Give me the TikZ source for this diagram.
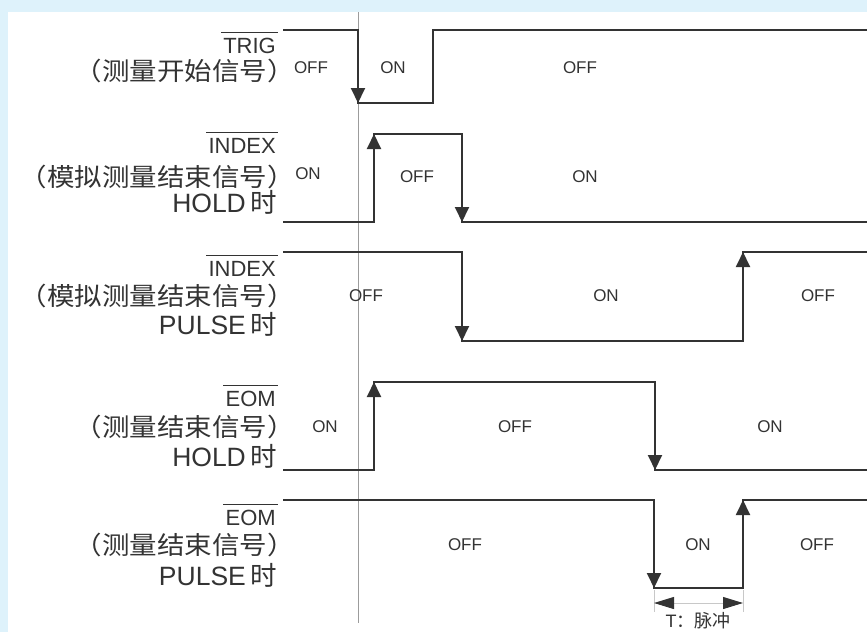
\documentclass[tikz,border=0pt]{standalone}
\usepackage{fontspec}
\setmainfont{Liberation Sans}
\newfontfamily\cjk{Noto Sans CJK SC}
\newfontfamily\cjkw{Noto Sans CJK SC}[FakeStretch=1.1]
\usetikzlibrary{arrows.meta}
\definecolor{bgblue}{HTML}{DEF2FB}
\definecolor{wave}{HTML}{333333}
\definecolor{guide}{HTML}{9C9C9C}
\definecolor{dimline}{HTML}{C8C8C8}
\tikzset{dimtip/.tip={Triangle[length=20pt,width=12pt,color=wave,fill=wave]}}
\begin{document}
\begin{tikzpicture}[x=1pt,y=-1pt,
  sig/.style={draw=wave,line width=1.9pt,line join=miter,line cap=butt},
  edgearrow/.style={sig,-{Triangle[length=15pt,width=14pt]}},
  sname/.style={anchor=base east,inner sep=0pt,font=\fontsize{22}{24}\selectfont,text=wave},
  cnline/.style={anchor=east,inner sep=0pt,font=\fontsize{25}{28}\selectfont\cjkw,text=wave},
  smode/.style={anchor=base east,inner sep=0pt,font=\fontsize{26.5}{28}\selectfont,text=wave},
  state/.style={inner sep=0pt,font=\fontsize{17}{19}\selectfont,text=wave},
  ovl/.style={draw=wave,line width=1.4pt},
]
\useasboundingbox (0,0) rectangle (867,632);
\fill[bgblue] (0,0) rectangle (867,632);
\fill[white] (8,12) rectangle (867,632);

% guide line
\draw[guide,line width=0.9pt] (358,12) -- (358,623);

% left labels
\node[sname] (n1) at (276,53) {TRIG};
\draw[ovl] ([xshift=-2pt,yshift=5pt]n1.north west) -- ([xshift=2pt,yshift=5pt]n1.north east);
\node[cnline] (c1) at (295,71) {（测量开始信号）};

\node[sname] (n2) at (276,153) {INDEX};
\draw[ovl] ([xshift=-2pt,yshift=5pt]n2.north west) -- ([xshift=2pt,yshift=5pt]n2.north east);
\node[cnline] (c2) at (295,177) {（模拟测量结束信号）};
\node[smode] (m2) at (277,212) {HOLD\,{\cjk 时}};

\node[sname] (n3) at (276,276) {INDEX};
\draw[ovl] ([xshift=-2pt,yshift=5pt]n3.north west) -- ([xshift=2pt,yshift=5pt]n3.north east);
\node[cnline] (c3) at (295,296) {（模拟测量结束信号）};
\node[smode] (m3) at (277,334) {PULSE\,{\cjk 时}};

\node[sname] (n4) at (276,406) {EOM};
\draw[ovl] ([xshift=-2pt,yshift=5pt]n4.north west) -- ([xshift=2pt,yshift=5pt]n4.north east);
\node[cnline] (c4) at (295,427) {（测量结束信号）};
\node[smode] (m4) at (277,466) {HOLD\,{\cjk 时}};

\node[sname] (n5) at (276,525) {EOM};
\draw[ovl] ([xshift=-2pt,yshift=5pt]n5.north west) -- ([xshift=2pt,yshift=5pt]n5.north east);
\node[cnline] (c5) at (295,545) {（测量结束信号）};
\node[smode] (m5) at (277,585) {PULSE\,{\cjk 时}};

% waveforms
\draw[sig] (283,30) -- (358,30) -- (358,103) -- (433,103) -- (433,30) -- (867,30);
\draw[edgearrow] (358,30) -- (358,103);

\draw[sig] (283,222) -- (374,222) -- (374,134) -- (462,134) -- (462,222) -- (867,222);
\draw[edgearrow] (374,222) -- (374,134);
\draw[edgearrow] (462,134) -- (462,222);

\draw[sig] (283,252) -- (462,252) -- (462,341) -- (743,341) -- (743,252) -- (867,252);
\draw[edgearrow] (462,252) -- (462,341);
\draw[edgearrow] (743,341) -- (743,252);

\draw[sig] (283,470) -- (374,470) -- (374,382) -- (655,382) -- (655,470) -- (867,470);
\draw[edgearrow] (374,470) -- (374,382);
\draw[edgearrow] (655,382) -- (655,470);

\draw[sig] (283,500) -- (654,500) -- (654,588) -- (743,588) -- (743,500) -- (867,500);
\draw[edgearrow] (654,500) -- (654,588);
\draw[edgearrow] (743,588) -- (743,500);

% state labels
\node[state] (s11) at (311,68) {OFF};
\node[state] (s12) at (393,68) {ON};
\node[state] (s13) at (580,68) {OFF};
\node[state] (s21) at (308,174) {ON};
\node[state] (s22) at (417,177) {OFF};
\node[state] (s23) at (585,177) {ON};
\node[state] (s31) at (366,296) {OFF};
\node[state] (s32) at (606,296) {ON};
\node[state] (s33) at (818,296) {OFF};
\node[state] (s41) at (325,427) {ON};
\node[state] (s42) at (515,427) {OFF};
\node[state] (s43) at (770,427) {ON};
\node[state] (s51) at (465,545) {OFF};
\node[state] (s52) at (698,545) {ON};
\node[state] (s53) at (817,545) {OFF};

% pulse width dimension
\coordinate (ea) at (654,590);
\coordinate (eb) at (743,590);
\coordinate (ta) at (654,603);
\coordinate (tb) at (743,603);
\coordinate (fa) at (654,612);
\coordinate (fb) at (743,612);
\draw[dimline,line width=0.8pt] (ea) -- (fa);
\draw[dimline,line width=0.8pt] (eb) -- (fb);
\draw[dimline,line width=1pt,dimtip-dimtip] (ta) -- (tb);
\node[fill=white,inner sep=1pt,font=\fontsize{18}{20}\selectfont,text=wave] (tl) at (698,621) {T{\cjk ：脉冲}};
\end{tikzpicture}
\end{document}
